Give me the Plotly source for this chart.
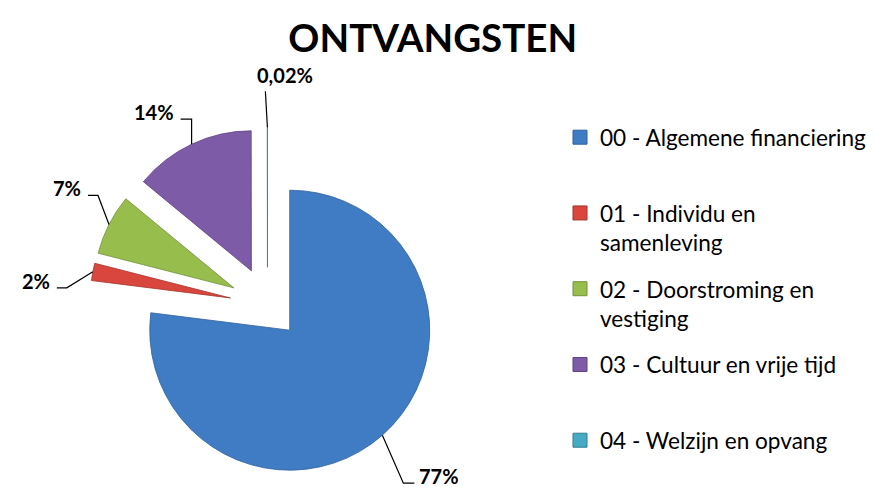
import math
import plotly.graph_objects as go

# ---------------- data ----------------
categories = [
    "00 - Algemene financiering",
    "01 - Individu en samenleving",
    "02 - Doorstroming en vestiging",
    "03 - Cultuur en vrije tijd",
    "04 - Welzijn en opvang",
]
legend_labels = [
    "00 - Algemene financiering<br> ",
    "01 - Individu en<br>samenleving",
    "02 - Doorstroming en<br>vestiging",
    "03 - Cultuur en vrije tijd<br> ",
    "04 - Welzijn en opvang",
]
values = [77, 2, 7, 14, 0.02]
pct_labels = ["77%", "2%", "7%", "14%", "0,02%"]
title_text = "ONTVANGSTEN"

# ---------------- style ----------------
colors = ["#3f7cc4", "#d9463e", "#97bd4c", "#7d5ba6", "#46aac4"]
edge_colors = ["#2f619e", "#a3332c", "#72913a", "#5d4380", "#2f7f94"]
pulls = [0.24, 0.27, 0.27, 0.27, 0.27]
FONT = "Lato, 'Liberation Sans', Arial, sans-serif"

W, H = 874, 487
CX, CY, R = 259.5, 297.0, 140.0          # pie centre / radius in px
half = R * (1 + max(pulls))
dom_x = [(CX - half) / W, (CX + half) / W]
dom_y = [1 - (CY + half) / H, 1 - (CY - half) / H]

# leader-line styling per label: elbow offset from slice edge, horizontal tail
elbow = [(21, 48), (-26, 16), (-11, -29), (0, -25), (-2, -36)]
tail = [11, -10, -10, -11, 0]

fig = go.Figure()

fig.add_trace(go.Pie(
    labels=categories,
    values=values,
    sort=False,
    direction="clockwise",
    rotation=0,
    pull=pulls,
    marker=dict(colors=colors, line=dict(color=edge_colors, width=0.8)),
    textinfo="none",
    hoverinfo="label+percent",
    showlegend=False,
    domain=dict(x=dom_x, y=dom_y),
))

# legend entries (one group each so the spacing follows the original)
for i, (lab, c, ec) in enumerate(zip(legend_labels, colors, edge_colors)):
    fig.add_trace(go.Scatter(
        x=[None], y=[None], mode="markers", name=lab,
        legendgroup=str(i),
        marker=dict(symbol="square", size=14, color=c, line=dict(color=ec, width=1)),
        hoverinfo="skip",
    ))

# data labels with elbow leader lines, positioned from the slice angles
total = sum(values)
cum = 0.0
shapes = []
annotations = []
for i, v in enumerate(values):
    mid = 2 * math.pi * (cum + v / 2) / total
    cum += v
    ux, uy = math.sin(mid), -math.cos(mid)
    dist = R * (1 + pulls[i])
    ax, ay = CX + ux * dist, CY + uy * dist
    ex, ey = ax + elbow[i][0], ay + elbow[i][1]
    tx = ex + tail[i]
    shapes.append(dict(type="path", xref="x", yref="y",
                       path=f"M {ax},{ay} L {ex},{ey} L {tx},{ey}",
                       line=dict(color="black", width=1.2)))
    if tail[i] > 0:
        annotations.append(dict(x=tx + 3, y=ey - 7, text=f"<b>{pct_labels[i]}</b>",
                                xanchor="left", yanchor="middle"))
    elif tail[i] < 0:
        annotations.append(dict(x=tx - 5, y=ey - 7, text=f"<b>{pct_labels[i]}</b>",
                                xanchor="right", yanchor="middle"))
    else:
        annotations.append(dict(x=ex - 10, y=ey - 16, text=f"<b>{pct_labels[i]}</b>",
                                xanchor="left", yanchor="middle"))
for a in annotations:
    a.update(xref="x", yref="y", showarrow=False,
             font=dict(family=FONT, size=20, color="black"))

fig.update_layout(
    width=W, height=H,
    margin=dict(l=0, r=0, t=0, b=0),
    paper_bgcolor="white", plot_bgcolor="white",
    title=dict(text=f"<b>{title_text}</b>", x=0.486, xanchor="center",
               y=1 - 31 / H, yanchor="middle",
               font=dict(family=FONT, size=38.5, color="black")),
    xaxis=dict(range=[0, W], visible=False, fixedrange=True),
    yaxis=dict(range=[H, 0], visible=False, fixedrange=True),
    showlegend=True,
    legend=dict(x=552 / W, xanchor="left", y=1 - 108 / H, yanchor="top",
                font=dict(family=FONT, size=22.6, color="black"),
                valign="top", traceorder="grouped", tracegroupgap=14,
                bgcolor="rgba(0,0,0,0)"),
    shapes=shapes,
    annotations=annotations,
)

fig.write_html("out.html")
